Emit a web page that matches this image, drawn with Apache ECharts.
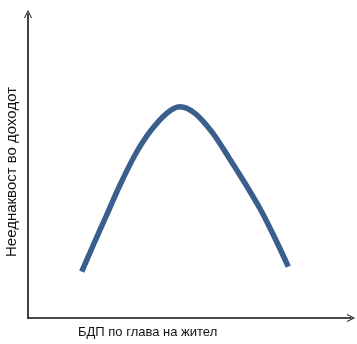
<!DOCTYPE html>
<html>
<head>
<meta charset="utf-8">
<style>
html,body{margin:0;padding:0;background:#fff;}
#chart{width:357px;height:344px;}
</style>
<script src="https://cdn.jsdelivr.net/npm/echarts@6/dist/echarts.min.js"></script>
</head>
<body>
<div id="chart"></div>
<script>
// Curve values (x: GDP per capita, y: income inequality), arbitrary units
const gdpPerCapita = [53.7, 65.3, 78.7, 92, 107, 122, 138.7, 152, 167, 183.7, 200.3, 217, 233.7, 247, 260.3];
const inequality   = [46.3, 73, 103, 133, 163, 186.3, 204.7, 211.3, 204.7, 186.3, 161.3, 134.7, 106.3, 79.7, 51.3];
const xAxisTitle = 'БДП по глава на жител';
const yAxisTitle = 'Нееднаквост во доходот';

const chart = echarts.init(document.getElementById('chart'), null, {renderer: 'canvas'});
const arrowPath = 'path://M0,10 L5,0 L10,10 L8.8,10 L5,2.6 L1.2,10 Z';
chart.setOption({
  animation: false,
  backgroundColor: '#ffffff',
  grid: {left: 28, right: 6, top: 14, bottom: 26},
  xAxis: {
    type: 'value', min: 0, max: 323,
    axisLine: {show: true, lineStyle: {color: '#111', width: 1.6}, symbol: ['none', arrowPath], symbolSize: [9, 8], symbolOffset: [0, 0]},
    axisTick: {show: false}, axisLabel: {show: false}, splitLine: {show: false}
  },
  yAxis: {
    type: 'value', min: 0, max: 304,
    axisLine: {show: true, lineStyle: {color: '#111', width: 1.6}, symbol: ['none', arrowPath], symbolSize: [9, 8], symbolOffset: [0, 0]},
    axisTick: {show: false}, axisLabel: {show: false}, splitLine: {show: false}
  },
  series: [{
    type: 'line',
    data: gdpPerCapita.map((x, i) => [x, inequality[i]]),
    smooth: 0.3,
    showSymbol: false,
    lineStyle: {color: '#3a5f8c', width: 5.5, cap: 'butt'}
  }],
  graphic: [
    {type: 'text', left: 78, top: 326, style: {text: xAxisTitle, font: '13px "Liberation Sans", Arial, sans-serif', fill: '#111'}},
    {type: 'text', x: 12, y: 172, rotation: Math.PI / 2, style: {text: yAxisTitle, font: '15px "Liberation Sans", Arial, sans-serif', fill: '#111', align: 'center', verticalAlign: 'middle'}}
  ]
});
</script>
</body>
</html>
